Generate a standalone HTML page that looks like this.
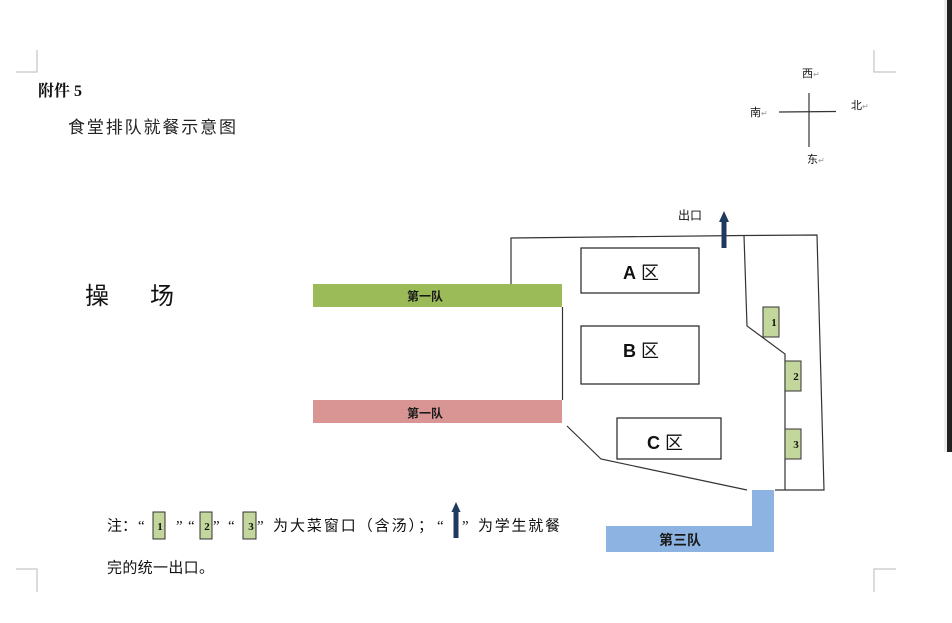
<!DOCTYPE html>
<html>
<head>
<meta charset="utf-8">
<style>
  html,body{margin:0;padding:0;background:#fff;}
  svg{display:block;}
  .cjk{font-family:"Liberation Sans","Noto Sans CJK SC",sans-serif;}
  .serifb{font-family:"Liberation Serif","Noto Serif CJK SC",serif;font-weight:bold;}
</style>
</head>
<body>
<svg width="952" height="623" viewBox="0 0 952 623" xmlns="http://www.w3.org/2000/svg">
  <rect x="0" y="0" width="952" height="623" fill="#ffffff"/>

  <!-- right dark strip -->
  <rect x="944" y="0" width="3" height="452" fill="#eeeeee"/>
  <rect x="947" y="0" width="5" height="452" fill="#222222"/>

  <!-- corner marks -->
  <g stroke="#b8b8b8" stroke-width="1" fill="none">
    <polyline points="16,72 37,72 37,50"/>
    <polyline points="896,72 874,72 874,50"/>
    <polyline points="16,569 37,569 37,592"/>
    <polyline points="896,569 874,569 874,592"/>
  </g>

  <!-- titles -->
  <text x="38" y="96" class="serifb" font-size="16" fill="#111">附件 5</text>
  <text x="68" y="133" class="cjk" font-size="17" fill="#222" textLength="168" lengthAdjust="spacing">食堂排队就餐示意图</text>

  <!-- compass -->
  <g stroke="#333" stroke-width="1.2">
    <line x1="779" y1="112" x2="836" y2="111.5"/>
    <line x1="809" y1="93" x2="809" y2="147"/>
  </g>
  <g class="cjk" font-size="11" fill="#111">
    <text x="802" y="77">西</text>
    <text x="750" y="116">南</text>
    <text x="851" y="109">北</text>
    <text x="807" y="163">东</text>
  </g>
  <g font-family="Liberation Sans, sans-serif" font-size="8" fill="#999">
    <text x="813" y="77">↵</text>
    <text x="761" y="116">↵</text>
    <text x="862" y="109">↵</text>
    <text x="818" y="163">↵</text>
  </g>

  <!-- 操 场 -->
  <text x="85" y="304" class="cjk" font-size="24" fill="#111">操</text>
  <text x="150" y="304" class="cjk" font-size="24" fill="#111">场</text>

  <!-- exit -->
  <text x="678" y="219.5" class="cjk" font-size="12" fill="#111">出口</text>

  <!-- building outline -->
  <g stroke="#333" stroke-width="1.2" fill="none">
    <polyline points="511,284 511,238 744,235.5 817,235 824,490 775,490"/>
    <polyline points="744,235.5 747,326 785,354 785,490"/>
    <line x1="562.5" y1="307" x2="562.5" y2="400"/>
    <polyline points="567,426 601,459 747,490"/>
  </g>

  <!-- exit arrow -->
  <rect x="721.5" y="220" width="5" height="28" fill="#1f3a5f"/>
  <polygon points="724,211 729,222 719,222" fill="#1f3a5f"/>

  <!-- zones -->
  <g fill="#fff" stroke="#222" stroke-width="1.2">
    <rect x="581" y="248" width="118" height="45"/>
    <rect x="581" y="326" width="118" height="58"/>
    <rect x="617" y="418" width="104" height="41"/>
  </g>
  <g fill="#111" font-size="18">
    <text x="623" y="279"><tspan font-family="Liberation Sans, sans-serif" font-weight="bold">A</tspan><tspan class="cjk" dx="5">区</tspan></text>
    <text x="623" y="357"><tspan font-family="Liberation Sans, sans-serif" font-weight="bold">B</tspan><tspan class="cjk" dx="5">区</tspan></text>
    <text x="647" y="449"><tspan font-family="Liberation Sans, sans-serif" font-weight="bold">C</tspan><tspan class="cjk" dx="5">区</tspan></text>
  </g>

  <!-- queues -->
  <rect x="313" y="284" width="249" height="23" fill="#9bbb59"/>
  <rect x="313" y="400" width="249" height="23" fill="#d99594"/>
  <text x="425" y="300.5" class="cjk" font-size="12" font-weight="bold" fill="#1a1a1a" text-anchor="middle">第一队</text>
  <text x="425" y="417.5" class="cjk" font-size="12" font-weight="bold" fill="#1a1a1a" text-anchor="middle">第一队</text>

  <polygon points="752,490 774,490 774,552 606,552 606,526 752,526" fill="#8db3e2"/>
  <text x="680" y="545" class="cjk" font-size="14" font-weight="bold" fill="#1a1a1a" text-anchor="middle">第三队</text>

  <!-- windows -->
  <g fill="#c3d69b" stroke="#333" stroke-width="1">
    <rect x="763" y="307" width="16" height="30"/>
    <rect x="785" y="361" width="16" height="30"/>
    <rect x="785" y="429" width="16" height="30"/>
  </g>
  <g class="serifb" font-size="11" fill="#111" text-anchor="middle">
    <text x="774" y="326">1</text>
    <text x="796" y="380">2</text>
    <text x="796" y="448">3</text>
  </g>

  <!-- legend -->
  <g class="cjk" font-size="15" fill="#111">
    <text x="107" y="530.5" textLength="30" lengthAdjust="spacing">注：</text>
    <text x="138" y="530.5" font-family="Liberation Serif, serif">“</text>
    <text x="176" y="530.5" font-family="Liberation Serif, serif">”</text>
    <text x="188" y="530.5" font-family="Liberation Serif, serif">“</text>
    <text x="213" y="530.5" font-family="Liberation Serif, serif">”</text>
    <text x="228" y="530.5" font-family="Liberation Serif, serif">“</text>
    <text x="257" y="530.5" font-family="Liberation Serif, serif">”</text>
    <text x="273" y="530.5" textLength="160" lengthAdjust="spacing">为大菜窗口（含汤）；</text>
    <text x="437" y="530.5" font-family="Liberation Serif, serif">“</text>
    <text x="462" y="530.5" font-family="Liberation Serif, serif">”</text>
    <text x="478" y="530.5" textLength="82" lengthAdjust="spacing">为学生就餐</text>
    <text x="107" y="572.5" textLength="107" lengthAdjust="spacing">完的统一出口。</text>
  </g>
  <g fill="#c3d69b" stroke="#333" stroke-width="1">
    <rect x="153" y="512" width="12" height="27"/>
    <rect x="200" y="512" width="12" height="27"/>
    <rect x="243" y="512" width="13" height="27"/>
  </g>
  <g class="serifb" font-size="11" fill="#111" text-anchor="middle">
    <text x="160" y="530">1</text>
    <text x="207" y="530">2</text>
    <text x="251" y="530">3</text>
  </g>
  <rect x="453.5" y="511" width="5" height="27" fill="#1f3a5f"/>
  <polygon points="456,502 460.5,512 451.5,512" fill="#1f3a5f"/>
</svg>
</body>
</html>
